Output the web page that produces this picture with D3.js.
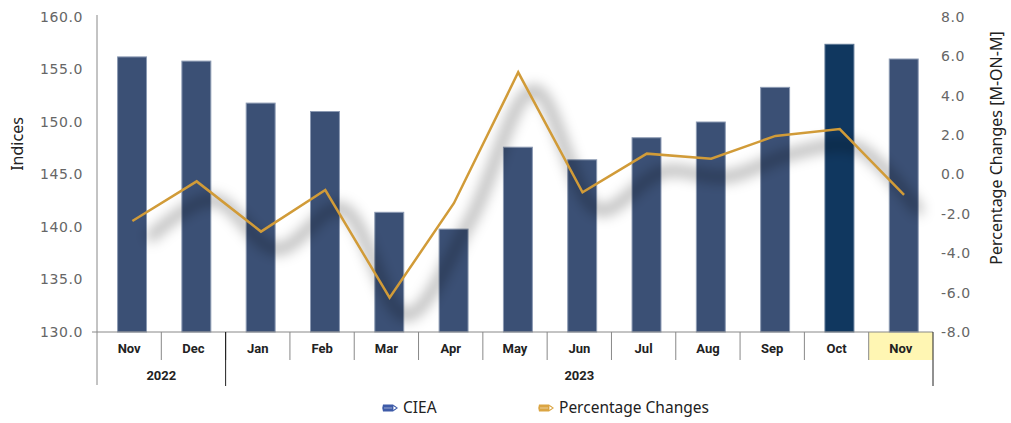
<!DOCTYPE html>
<html lang="en">
<head>
<meta charset="utf-8">
<title>CIEA</title>
<script src="https://d3js.org/d3.v7.min.js"></script>
<style>
  body { margin: 0; background: #fff; }
  svg { display: block; }
</style>
</head>
<body>
<div id="chart"></div>
<script>
// data
const months = ["Nov", "Dec", "Jan", "Feb", "Mar", "Apr", "May", "Jun", "Jul", "Aug", "Sep", "Oct", "Nov"];
const years = ["2022", "2023"];
const yearSpans = [2, 11];
const ciea = [156.2, 155.8, 151.8, 151.0, 141.4, 139.8, 147.6, 146.4, 148.5, 150.0, 153.3, 157.4, 156.0];
const pct = [-2.36, -0.35, -2.9, -0.79, -6.26, -1.46, 5.19, -0.9, 1.06, 0.8, 1.96, 2.31, -1.04];
const leftTicks = [130, 135, 140, 145, 150, 155, 160];
const rightTicks = [-8, -6, -4, -2, 0, 2, 4, 6, 8];

const w = 1011, h = 423;
const pLeft = 97, pRight = 933, pTop = 17, pBottom = 332;

const svg = d3.select("#chart").append("svg")
  .attr("width", w).attr("height", h);

const defs = svg.append("defs");
defs.append("filter").attr("id", "blur")
  .attr("x", "-20%").attr("y", "-50%").attr("width", "140%").attr("height", "200%")
  .append("feGaussianBlur").attr("stdDeviation", 6.5);

const x = d3.scaleBand().domain(d3.range(months.length)).range([pLeft, pRight]).padding(0);
const bw = x.bandwidth();
const yL = d3.scaleLinear().domain([130, 160]).range([pBottom, pTop]);
const yR = d3.scaleLinear().domain([-8, 8]).range([pBottom, pTop]);

// highlight cell under the last month
svg.append("rect")
  .attr("x", x(months.length - 1)).attr("y", pBottom)
  .attr("width", bw).attr("height", 28)
  .attr("fill", "#fff6b3");

// bars
svg.append("g").selectAll("rect")
  .data(ciea)
  .join("rect")
  .attr("x", (d, i) => x(i) + bw * 0.32)
  .attr("width", bw * 0.45)
  .attr("y", d => yL(d))
  .attr("height", d => yL(130) - yL(d))
  .attr("fill", (d, i) => i === 11 ? "#10375f" : "#3b5075")
  .attr("stroke", (d, i) => i === 11 ? "#5d7795" : "#8c9ab3")
  .attr("stroke-width", 1);

// line + blurred shadow
const pts = pct.map((d, i) => [x(i) + bw * 0.55, yR(d)]);
svg.append("path")
  .attr("d", d3.line().curve(d3.curveCatmullRom)(pts))
  .attr("transform", "translate(16,18)")
  .attr("fill", "none")
  .attr("stroke", "#000")
  .attr("stroke-opacity", 0.3)
  .attr("stroke-width", 10)
  .attr("filter", "url(#blur)");

svg.append("path")
  .attr("d", d3.line()(pts))
  .attr("fill", "none")
  .attr("stroke", "#d19b38")
  .attr("stroke-width", 2.5)
  .attr("stroke-linejoin", "miter");

// left axis
svg.append("line")
  .attr("x1", pLeft).attr("x2", pLeft).attr("y1", pTop - 2).attr("y2", 385)
  .attr("stroke", "#888").attr("stroke-width", 1);
svg.append("g").selectAll("text")
  .data(leftTicks)
  .join("text")
  .attr("x", 83).attr("y", d => yL(d))
  .attr("dy", "0.35em")
  .attr("text-anchor", "end")
  .attr("font-family", "DejaVu Sans, Verdana, sans-serif")
  .attr("font-size", 14).attr("letter-spacing", 0.6)
  .attr("fill", "#666")
  .text(d => d.toFixed(1));

// right axis labels
svg.append("g").selectAll("text")
  .data(rightTicks)
  .join("text")
  .attr("x", 941).attr("y", d => yR(d))
  .attr("dy", "0.35em")
  .attr("font-family", "DejaVu Sans, Verdana, sans-serif")
  .attr("font-size", 14).attr("letter-spacing", 0.6)
  .attr("fill", "#666")
  .text(d => d.toFixed(1));

// axis titles
svg.append("text")
  .attr("transform", "translate(23,144) rotate(-90)")
  .attr("text-anchor", "middle")
  .attr("font-family", "Noto Sans, sans-serif").attr("font-size", 16)
  .attr("fill", "#222")
  .text("Indices");
svg.append("text")
  .attr("transform", "translate(1002,148) rotate(-90)")
  .attr("text-anchor", "middle")
  .attr("font-family", "Noto Sans, sans-serif").attr("font-size", 16)
  .attr("fill", "#222")
  .text("Percentage Changes [M-ON-M]");

// category axis
svg.append("line")
  .attr("x1", pLeft - 5).attr("x2", pRight).attr("y1", pBottom).attr("y2", pBottom)
  .attr("stroke", "#888");
svg.append("g").selectAll("line")
  .data(d3.range(1, months.length))
  .join("line")
  .attr("x1", i => x(i)).attr("x2", i => x(i))
  .attr("y1", pBottom).attr("y2", pBottom + 28)
  .attr("stroke", (i) => i === 2 ? "#222" : "#888");
svg.append("g").selectAll("text")
  .data(months)
  .join("text")
  .attr("x", (d, i) => x(i) + bw / 2).attr("y", 353)
  .attr("text-anchor", "middle")
  .attr("font-family", "Liberation Sans Narrow, Roboto, sans-serif")
  .attr("font-weight", "bold").attr("font-size", 13)
  .attr("fill", "#222")
  .text(d => d);

// year row
let start = 0;
const yearPos = yearSpans.map(s => { const p = [start, start + s]; start += s; return p; });
svg.append("g").selectAll("line")
  .data(yearPos)
  .join("line")
  .attr("x1", p => p[1] < months.length ? x(p[1]) : pRight)
  .attr("x2", p => p[1] < months.length ? x(p[1]) : pRight)
  .attr("y1", pBottom)
  .attr("y2", 386)
  .attr("stroke", "#222");
svg.append("g").selectAll("text")
  .data(years)
  .join("text")
  .attr("x", (d, i) => (x(yearPos[i][0]) + (yearPos[i][1] < months.length ? x(yearPos[i][1]) : pRight)) / 2)
  .attr("y", 380)
  .attr("text-anchor", "middle")
  .attr("font-family", "Liberation Sans Narrow, Roboto, sans-serif")
  .attr("font-weight", "bold").attr("font-size", 13)
  .attr("fill", "#222")
  .text(d => d);

// legend
const legendItems = [
  { label: "CIEA", color: "#3e5ba8", x: 383 },
  { label: "Percentage Changes", color: "#dba543", x: 539 }
];
const lg = svg.append("g").selectAll("g")
  .data(legendItems)
  .join("g")
  .attr("transform", d => `translate(${d.x},408)`);
lg.append("path")
  .attr("d", "M0,-3.5 L10,-3.5 L15,0 L10,3.5 L0,3.5 Q-1.5,0 0,-3.5 Z")
  .attr("fill", d => d.color);
lg.append("path")
  .attr("d", "M10,-2.5 L14,0 L10,2.5 Z")
  .attr("fill", "#fff").attr("stroke", d => d.color).attr("stroke-width", 0.8);
lg.append("line")
  .attr("x1", 1).attr("x2", 9).attr("y1", 0).attr("y2", 0)
  .attr("stroke", "#fff").attr("stroke-opacity", 0.6).attr("stroke-width", 0.8);
lg.append("text")
  .attr("x", 20).attr("dy", "0.35em")
  .attr("font-family", "Noto Sans, sans-serif").attr("font-size", 15.5)
  .attr("fill", "#222")
  .text(d => d.label);
</script>
</body>
</html>
